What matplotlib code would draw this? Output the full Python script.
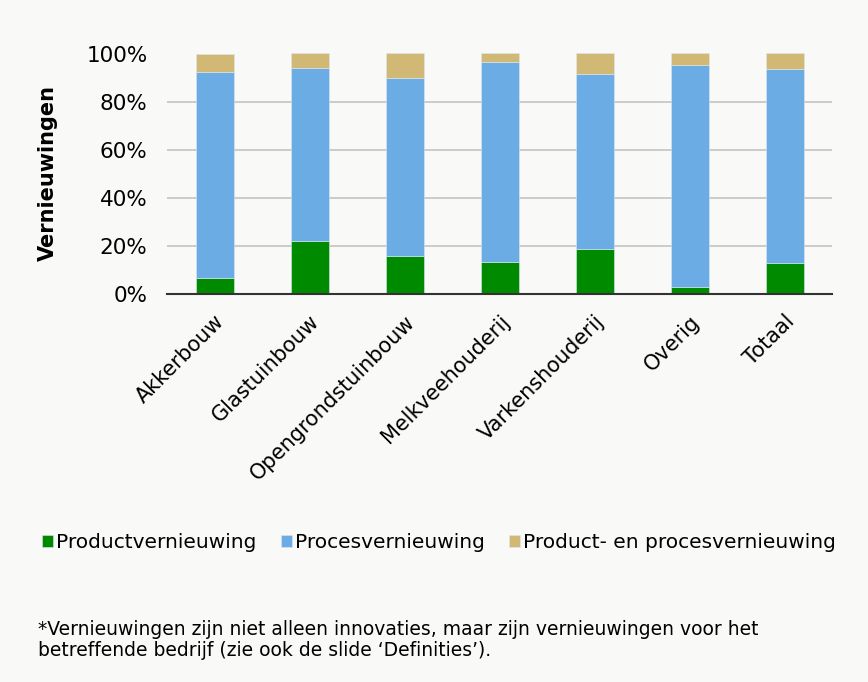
import matplotlib
matplotlib.use("Agg")
import matplotlib.pyplot as plt
import numpy as np

categories = ["Akkerbouw", "Glastuinbouw", "Opengrondstuinbouw", "Melkveehouderij",
              "Varkenshouderij", "Overig", "Totaal"]
product = [6.5, 21.8, 15.6, 13.2, 18.6, 2.8, 12.8]
proces = [85.7, 72.0, 74.4, 83.3, 72.9, 92.5, 80.8]
beide = [7.8, 6.2, 10.0, 3.5, 8.5, 4.7, 6.4]
series_names = ["Productvernieuwing", "Procesvernieuwing", "Product- en procesvernieuwing"]
colors = ["#008a00", "#6aace3", "#d1b975"]
yticks = [0, 20, 40, 60, 80, 100]

bg = "#f9f9f7"
fig = plt.figure(figsize=(8.68, 6.82), dpi=100, facecolor=bg)
ax = fig.add_axes([167/868, 1-293.5/682, 665/868, 240/682], facecolor=bg)

x = np.arange(len(categories))
w = 0.4
bottom = np.zeros(len(categories))
for vals, c, name in zip([product, proces, beide], colors, series_names):
    ax.bar(x, vals, w, bottom=bottom, color=c, label=name, edgecolor="#dce8f4",
           linewidth=0.4, zorder=3, clip_on=False)
    bottom += np.array(vals)

ax.set_xlim(-0.5, len(categories) - 0.5)
ax.set_ylim(0, 100)
ax.set_yticks(yticks)
ax.set_yticklabels([f"{t}%" for t in yticks], fontsize=15.5)
ax.yaxis.grid(True, color="#c4c4c0", linewidth=1.2, zorder=0)
ax.tick_params(axis="y", length=0, pad=14)
ax.tick_params(axis="x", length=0, pad=13)
ax.set_xticks(x)
ax.set_xticklabels(categories, rotation=45, ha="right", rotation_mode="anchor", fontsize=15)
for s in ["top", "right", "left"]:
    ax.spines[s].set_visible(False)
ax.spines["bottom"].set_color("#333333")
ax.spines["bottom"].set_linewidth(1.5)
ax.spines["bottom"].set_zorder(4)

fig.text(48/868, 1-173/682, "Vernieuwingen", rotation=90, fontsize=15, fontweight="bold",
         ha="center", va="center")

handles, labels = ax.get_legend_handles_labels()
fig.legend(handles, labels, loc="center", bbox_to_anchor=(439/868, 1-543/682), ncol=3,
           frameon=False, fontsize=14.5, handlelength=0.55, handleheight=0.55,
           handletextpad=0.15, columnspacing=1.2)

fig.text(38/868, 1-640/682,
         "*Vernieuwingen zijn niet alleen innovaties, maar zijn vernieuwingen voor het\n"
         "betreffende bedrijf (zie ook de slide \u2018Definities\u2019).",
         fontsize=13.5, ha="left", va="center", linespacing=1.12)

fig.savefig("out.png", dpi=100, facecolor=bg)
